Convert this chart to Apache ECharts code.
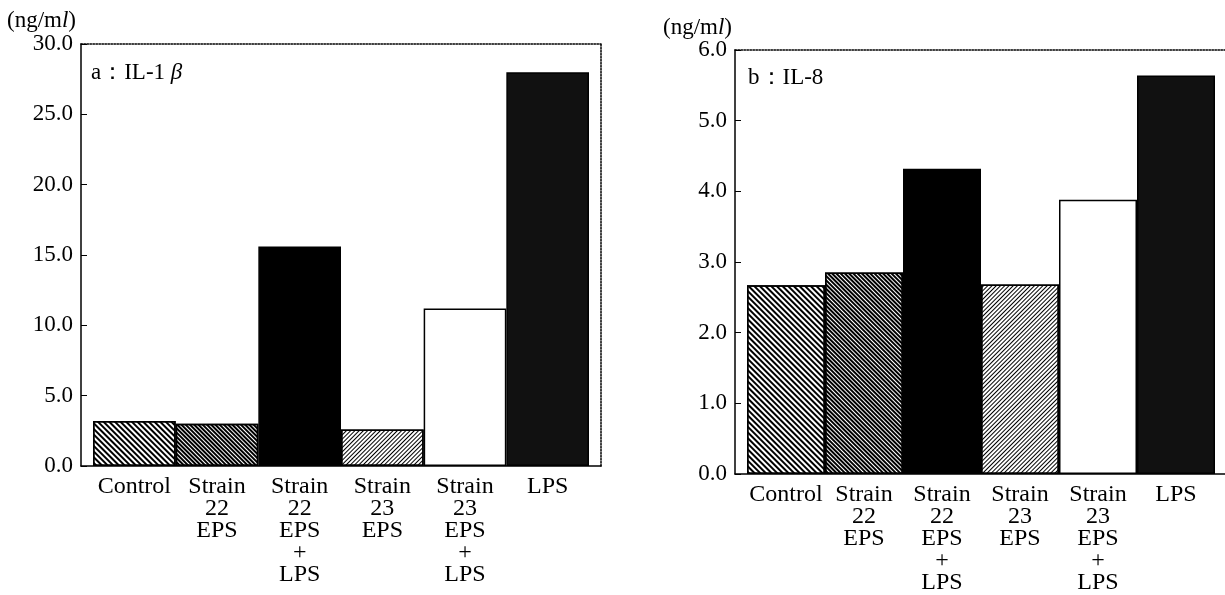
<!DOCTYPE html>
<html>
<head>
<meta charset="utf-8">
<script src="https://cdn.jsdelivr.net/npm/echarts@6/dist/echarts.min.js"></script>
<style>
  html, body { margin: 0; padding: 0; background: #fff; }
  #chart { width: 1225px; height: 595px; }
</style>
</head>
<body>
<div id="chart"></div>
<script>
// data
const categories = [
  "Control",
  "Strain\n22\nEPS",
  "Strain\n22\nEPS\n+\nLPS",
  "Strain\n23\nEPS",
  "Strain\n23\nEPS\n+\nLPS",
  "LPS",
];
const il1bValues = [3.2, 3.0, 15.6, 2.6, 11.2, 28.0];
const il8Values = [2.67, 2.85, 4.32, 2.68, 3.88, 5.64];
const il1bTicks = [0, 30, 5];
const il8Ticks = [0, 6, 1];

const FONT = "Liberation Serif";

// fill style for each bar, same order as categories
const barStyles = [
  { color: "#fff", decal: { symbol: "rect", symbolSize: 1, dashArrayX: [1, 0], dashArrayY: [1.5, 1.5], rotation: Math.PI / 4, color: "#000" } },
  { color: "#fff", decal: { symbol: "rect", symbolSize: 1, dashArrayX: [1, 0], dashArrayY: [2, 1], rotation: Math.PI / 4, color: "#000" } },
  { color: "#000" },
  { color: "#fff", decal: { symbol: "rect", symbolSize: 1, dashArrayX: [1, 0], dashArrayY: [1, 2], rotation: -Math.PI / 4, color: "#000" } },
  { color: "#fff" },
  { color: "#111" },
];

const toItems = (values) =>
  values.map((v, i) => ({
    value: v,
    itemStyle: Object.assign({ borderColor: "#000", borderWidth: 1.5 }, barStyles[i]),
  }));

const frameX = (gridIndex, position, dotted) => ({
  type: "value",
  gridIndex: gridIndex,
  position: position,
  min: 0,
  max: 1,
  axisLine: { show: true, onZero: false, lineStyle: { color: "#000", width: 1.5, type: dotted ? "dotted" : "solid" } },
  axisTick: { show: false },
  axisLabel: { show: false },
  splitLine: { show: false },
});

const valueY = (gridIndex, ticks) => ({
  type: "value",
  gridIndex: gridIndex,
  min: ticks[0],
  max: ticks[1],
  interval: ticks[2],
  axisLine: { show: true, onZero: false, lineStyle: { color: "#000", width: 1.5 } },
  axisTick: { show: true, inside: true, length: 6, lineStyle: { color: "#000" } },
  axisLabel: {
    color: "#000",
    fontFamily: FONT,
    fontSize: 23,
    margin: 8,
    formatter: (v) => v.toFixed(1),
  },
  splitLine: { show: false },
});

const hiddenY = (gridIndex, ticks) => ({
  type: "value",
  gridIndex: gridIndex,
  min: ticks[0],
  max: ticks[1],
  show: false,
});

const categoryX = (gridIndex) => ({
  type: "category",
  gridIndex: gridIndex,
  data: categories,
  axisLine: { show: false },
  axisTick: { show: false },
  axisLabel: {
    interval: 0,
    color: "#000",
    fontFamily: FONT,
    fontSize: 24,
    lineHeight: 22,
    margin: 10,
  },
});

const titleStyle = {
  fontFamily: FONT,
  fontSize: 23,
  fontWeight: "normal",
  color: "#000",
  rich: { i: { fontFamily: FONT, fontSize: 23, fontStyle: "italic", color: "#000" } },
};

const getOption = () => {
  return {
    animation: false,
    backgroundColor: "#fff",
    textStyle: { fontFamily: FONT },
    title: [
      { text: "(ng/m{i|l})", left: 7, top: 9, padding: 0, textStyle: titleStyle },
      { text: "a：IL-1 {i|β}", left: 91, top: 61, padding: 0, textStyle: titleStyle },
      { text: "(ng/m{i|l})", left: 663, top: 16, padding: 0, textStyle: titleStyle },
      { text: "b：IL-8", left: 748, top: 66, padding: 0, textStyle: titleStyle },
    ],
    grid: [
      // a: frame and bars
      { left: 81, top: 44, width: 520, height: 422 },
      { left: 93, top: 44, width: 496, height: 422 },
      // b: frame and bars
      { left: 735, top: 50, width: 491, height: 424 },
      { left: 747, top: 50, width: 468, height: 424 },
    ],
    xAxis: [
      frameX(0, "bottom", false),
      frameX(0, "top", true),
      categoryX(1),
      frameX(2, "bottom", false),
      frameX(2, "top", true),
      categoryX(3),
    ],
    yAxis: [
      valueY(0, il1bTicks),
      Object.assign(hiddenY(0, il1bTicks), {
        show: true,
        position: "right",
        axisLine: { show: true, onZero: false, lineStyle: { color: "#000", width: 1.5, type: "dotted" } },
        axisTick: { show: false },
        axisLabel: { show: false },
        splitLine: { show: false },
      }),
      hiddenY(1, il1bTicks),
      valueY(2, il8Ticks),
      hiddenY(3, il8Ticks),
    ],
    series: [
      {
        name: "IL-1β",
        type: "bar",
        xAxisIndex: 2,
        yAxisIndex: 2,
        barWidth: "100%",
        barCategoryGap: 0,
        data: toItems(il1bValues),
      },
      {
        name: "IL-8",
        type: "bar",
        xAxisIndex: 5,
        yAxisIndex: 4,
        barWidth: "100%",
        barCategoryGap: 0,
        data: toItems(il8Values),
      },
    ],
  };
};

const chart = echarts.init(document.getElementById("chart"));
chart.setOption(getOption());
</script>
</body>
</html>
